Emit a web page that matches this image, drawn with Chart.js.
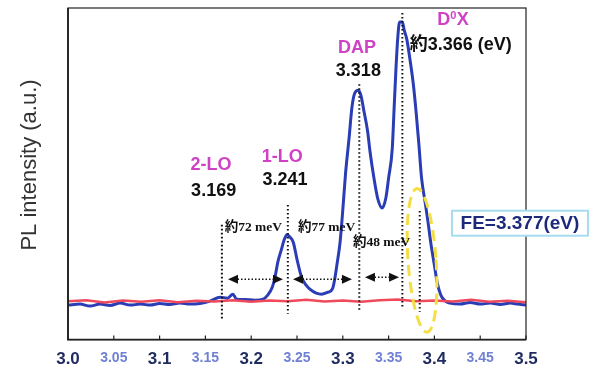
<!DOCTYPE html>
<html>
<head>
<meta charset="utf-8">
<script src="https://cdn.jsdelivr.net/npm/chart.js@4.4.1/dist/chart.umd.min.js"></script>
<style>
html, body { margin: 0; padding: 0; background: #fff; overflow: hidden; width: 595px; height: 369px; }
#wrap { width: 595px; height: 380px; position: relative; }
</style>
</head>
<body>
<div id="wrap"><canvas id="myChart"></canvas></div>
<script>
// photon energy (eV) axis labels
var tickLabels = ['3.0', '3.05', '3.1', '3.15', '3.2', '3.25', '3.3', '3.35', '3.4', '3.45', '3.5'];

// blue spectrum
var blueEnergy = [3.000, 3.013, 3.024, 3.035, 3.046, 3.057, 3.068, 3.079, 3.090, 3.100,
    3.111, 3.122, 3.133, 3.144, 3.155, 3.166, 3.174, 3.180, 3.184, 3.193,
    3.204, 3.213, 3.218, 3.223, 3.226, 3.229, 3.233, 3.236, 3.239, 3.242,
    3.246, 3.250, 3.255, 3.260, 3.264, 3.271, 3.277, 3.284, 3.289, 3.294,
    3.297, 3.300, 3.303, 3.307, 3.310, 3.313, 3.317, 3.320, 3.323, 3.327,
    3.330, 3.334, 3.338, 3.343, 3.347, 3.350, 3.354, 3.356, 3.358, 3.360,
    3.362, 3.365, 3.367, 3.370, 3.373, 3.377, 3.380, 3.383, 3.386, 3.390,
    3.393, 3.396, 3.400, 3.403, 3.407, 3.412, 3.417, 3.428, 3.439, 3.450,
    3.461, 3.472, 3.483, 3.491, 3.500];
var blueIntensity = [10.4, 10.7, 10.1, 10.7, 10.3, 11.0, 10.4, 10.7, 10.4, 10.9,
    10.6, 11.0, 10.7, 10.9, 11.6, 12.8, 12.5, 13.7, 12.2, 12.1,
    11.9, 12.2, 13.4, 15.8, 18.8, 23.3, 27.2, 30.1, 31.6, 31.0,
    29.3, 24.2, 18.8, 16.4, 15.2, 14.0, 13.7, 14.3, 15.5, 23.3,
    29.3, 39.1, 50.1, 61.2, 70.1, 74.3, 75.2, 73.4, 69.0, 63.0,
    56.1, 48.7, 42.7, 39.7, 42.7, 48.7, 57.6, 69.6, 81.5, 91.0,
    95.8, 95.8, 93.4, 90.4, 85.1, 77.0, 68.7, 59.1, 48.7, 41.2,
    35.5, 29.3, 22.4, 17.3, 13.4, 11.6, 11.0, 10.7, 11.2, 10.7,
    11.0, 10.6, 11.0, 10.7, 10.4];

// red spectrum (flat background)
var redEnergy = [3.00, 3.02, 3.04, 3.06, 3.08, 3.10, 3.12, 3.14, 3.16, 3.18, 3.20, 3.22, 3.24,
    3.26, 3.28, 3.30, 3.32, 3.34, 3.36, 3.38, 3.40, 3.42, 3.44, 3.46, 3.48, 3.50];
var redIntensity = [11.6, 11.9, 11.2, 11.8, 11.4, 11.9, 11.3, 11.7, 11.5, 11.9, 11.4, 11.8, 11.6,
    12.0, 11.5, 11.8, 11.4, 11.9, 12.1, 11.6, 11.8, 11.5, 12.0, 11.4, 11.7, 11.3];

// peaks
var peakNames = ['2-LO', '1-LO', 'DAP', 'D0X', 'FE'];
var peakValues = ['3.169', '3.241', '3.318', '約3.366 (eV)', 'FE=3.377(eV)'];
var peakLines = [3.168, 3.240, 3.318, 3.365, 3.384];
var spacingLabels = ['約72 meV', '約77 meV', '約48 meV'];

var PINK = '#cf42c6';
var LABEL_FONT = 'bold 18px "Liberation Sans", Arial, "Noto Sans CJK JP", sans-serif';

function drawArrow(ctx, x1, x2, y) {
    ctx.save();
    ctx.strokeStyle = '#111';
    ctx.fillStyle = '#111';
    ctx.lineWidth = 1.5;
    ctx.setLineDash([1.5, 2]);
    ctx.beginPath();
    ctx.moveTo(x1 + 6, y);
    ctx.lineTo(x2 - 6, y);
    ctx.stroke();
    ctx.setLineDash([]);
    ctx.beginPath();
    ctx.moveTo(x1, y); ctx.lineTo(x1 + 10, y - 4.5); ctx.lineTo(x1 + 10, y + 4.5); ctx.closePath();
    ctx.fill();
    ctx.beginPath();
    ctx.moveTo(x2, y); ctx.lineTo(x2 - 10, y - 4.5); ctx.lineTo(x2 - 10, y + 4.5); ctx.closePath();
    ctx.fill();
    ctx.restore();
}

var decorations = {
    id: 'decorations',
    afterDatasetsDraw: function (chart) {
        var ctx = chart.ctx;
        var xs = chart.scales.x, ys = chart.scales.y;
        var a = chart.chartArea;
        var X = function (v) { return xs.getPixelForValue(v); };
        var Y = function (v) { return ys.getPixelForValue(v); };

        // frame
        ctx.save();
        ctx.strokeStyle = '#222';
        ctx.lineWidth = 1.2;
        ctx.strokeRect(a.left, a.top, a.right - a.left, a.bottom - a.top);
        ctx.lineWidth = 1.8;
        ctx.beginPath();
        ctx.moveTo(a.left, a.top); ctx.lineTo(a.left, a.bottom); ctx.lineTo(a.right, a.bottom);
        ctx.stroke();
        // inward tick marks
        ctx.lineWidth = 1.2;
        xs.ticks.forEach(function (t) {
            var px = X(t.value);
            ctx.beginPath();
            ctx.moveTo(px, a.bottom);
            ctx.lineTo(px, a.bottom - 4);
            ctx.stroke();
        });
        ctx.restore();

        // dotted peak lines
        var lineTops = [34.6, 40.6, 77.0, 98.5, 38.8];
        var lineBottoms = [6.0, 7.8, 9.0, 9.9, 8.4];
        ctx.save();
        ctx.strokeStyle = '#111';
        ctx.lineWidth = 2;
        ctx.setLineDash([1.6, 2.4]);
        peakLines.forEach(function (e, i) {
            ctx.beginPath();
            ctx.moveTo(X(e), Y(lineTops[i]));
            ctx.lineTo(X(e), Y(lineBottoms[i]));
            ctx.stroke();
        });
        ctx.restore();

        // yellow dashed ellipse around FE
        ctx.save();
        ctx.strokeStyle = '#f3df45';
        ctx.lineWidth = 3;
        ctx.setLineDash([11, 6]);
        ctx.beginPath();
        ctx.ellipse(X(3.3865), Y(23.9), 14, 72, -0.07, 0, Math.PI * 2);
        ctx.stroke();
        ctx.restore();

        // spacing arrows
        drawArrow(ctx, X(3.1747), X(3.2347), Y(18.2));
        drawArrow(ctx, X(3.2456), X(3.3100), Y(18.2));
        drawArrow(ctx, X(3.3242), X(3.3614), Y(18.8));

        // text
        ctx.save();
        ctx.textBaseline = 'middle';
        ctx.fillStyle = '#111';
        ctx.font = 'bold 13.5px "Liberation Serif", "Times New Roman", "Noto Sans CJK JP", serif';
        ctx.textAlign = 'left';
        ctx.fillText(spacingLabels[0], X(3.171), Y(33.7));
        ctx.fillText(spacingLabels[1], X(3.251), Y(33.7));
        ctx.fillText(spacingLabels[2], X(3.311), Y(29.3));

        ctx.textAlign = 'center';
        ctx.font = LABEL_FONT;
        ctx.fillStyle = PINK;
        ctx.fillText(peakNames[0], X(3.156), Y(52.5));
        ctx.fillText(peakNames[1], X(3.234), Y(55.2));
        ctx.fillText(peakNames[2], X(3.3155), Y(87.8));
        ctx.fillStyle = '#111';
        ctx.fillText(peakValues[0], X(3.159), Y(44.8));
        ctx.fillText(peakValues[1], X(3.237), Y(48.1));
        ctx.fillText(peakValues[2], X(3.317), Y(80.9));
        ctx.textAlign = 'left';
        ctx.fillText(peakValues[3], X(3.373), Y(88.7));

        // D0X with superscript
        var dx = X(3.403), dy = Y(96.4);
        ctx.fillStyle = PINK;
        ctx.fillText('D', dx, dy);
        var w = ctx.measureText('D').width;
        ctx.font = 'bold 11px "Liberation Sans", Arial, sans-serif';
        ctx.fillText('0', dx + w, dy - 4);
        var w0 = ctx.measureText('0').width;
        ctx.font = LABEL_FONT;
        ctx.fillText('X', dx + w + w0 + 0.5, dy);

        // FE box
        var cx = X(3.4934), cy = Y(35.1);
        ctx.fillStyle = '#fff';
        ctx.fillRect(cx - 68, cy - 12.5, 136, 25);
        ctx.strokeStyle = '#a6dcef';
        ctx.lineWidth = 2;
        ctx.strokeRect(cx - 68, cy - 12.5, 136, 25);
        ctx.fillStyle = '#1d2a7a';
        ctx.textAlign = 'center';
        ctx.font = 'bold 19px "Liberation Sans", Arial, sans-serif';
        ctx.fillText(peakValues[4], cx, cy + 1);

        // y axis title
        ctx.translate(30, 165);
        ctx.rotate(-Math.PI / 2);
        ctx.fillStyle = '#333';
        ctx.font = '22px "Liberation Sans", Arial, sans-serif';
        ctx.fillText('PL intensity (a.u.)', 0, 0);
        ctx.restore();
    }
};

function pairs(xs, ys) {
    return xs.map(function (x, i) { return { x: x, y: ys[i] }; });
}

new Chart(document.getElementById('myChart'), {
    type: 'line',
    data: {
        datasets: [{
            label: 'red',
            data: pairs(redEnergy, redIntensity),
            borderColor: '#ef4a5c',
            borderWidth: 2.5,
            pointRadius: 0,
            tension: 0
        }, {
            label: 'blue',
            data: pairs(blueEnergy, blueIntensity),
            borderColor: '#2a3db5',
            borderWidth: 3,
            pointRadius: 0,
            cubicInterpolationMode: 'monotone'
        }]
    },
    options: {
        responsive: true,
        maintainAspectRatio: false,
        animation: false,
        layout: { padding: { left: 68, right: 69, top: 8, bottom: 0 } },
        plugins: {
            legend: { display: false },
            tooltip: { enabled: false }
        },
        scales: {
            x: {
                type: 'linear',
                min: 3.0,
                max: 3.5,
                grid: { display: false, drawTicks: false },
                border: { display: false },
                ticks: {
                    stepSize: 0.05,
                    autoSkip: false,
                    maxRotation: 0,
                    padding: 10,
                    callback: function (value, index) { return tickLabels[index]; },
                    color: function (c) { return c.index % 2 === 0 ? '#1f2a5f' : '#7080d4'; },
                    font: function (c) {
                        return c.index % 2 === 0
                            ? { family: '"Liberation Sans", Arial, sans-serif', size: 17, weight: 'bold' }
                            : { family: '"Liberation Sans", Arial, sans-serif', size: 14, weight: 'bold' };
                    }
                }
            },
            y: {
                display: false,
                min: 0,
                max: 100
            }
        }
    },
    plugins: [decorations]
});
</script>
</body>
</html>
